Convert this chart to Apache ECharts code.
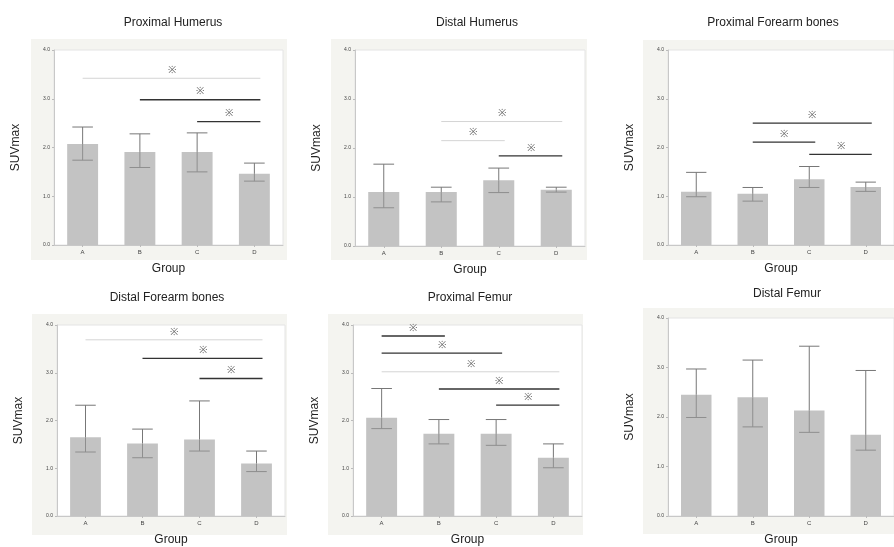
<!DOCTYPE html>
<html><head><meta charset="utf-8">
<script src="https://cdn.jsdelivr.net/npm/echarts@6/dist/echarts.min.js"></script>
<style>html,body{margin:0;padding:0;background:#fff}#c{width:894px;height:547px}</style>
</head><body><div id="c"></div><script>
// ---------------- DATA ----------------
const categories = ['A', 'B', 'C', 'D'];
const panelTitles = ['Proximal Humerus', 'Distal Humerus', 'Proximal Forearm bones',
                     'Distal Forearm bones', 'Proximal Femur', 'Distal Femur'];
const yAxisName = 'SUVmax';
const xAxisName = 'Group';

const meanProxHumerus  = [2.07, 1.91, 1.91, 1.46];
const upperProxHumerus = [2.42, 2.28, 2.30, 1.68];
const lowerProxHumerus = [1.74, 1.59, 1.50, 1.31];
const sigProxHumerus   = [[0, 3, 3.42], [1, 3, 2.98], [2, 3, 2.53]];

const meanDistHumerus  = [1.10, 1.10, 1.34, 1.15];
const upperDistHumerus = [1.67, 1.20, 1.59, 1.20];
const lowerDistHumerus = [0.78, 0.90, 1.09, 1.10];
const sigDistHumerus   = [[1, 3, 2.54], [1, 2, 2.15], [2, 3, 1.84]];

const meanProxForearm  = [1.09, 1.05, 1.35, 1.19];
const upperProxForearm = [1.49, 1.18, 1.61, 1.29];
const lowerProxForearm = [0.99, 0.90, 1.18, 1.10];
const sigProxForearm   = [[1, 3, 2.50], [1, 2, 2.11], [2, 3, 1.86]];

const meanDistForearm  = [1.65, 1.52, 1.60, 1.10];
const upperDistForearm = [2.32, 1.82, 2.41, 1.36];
const lowerDistForearm = [1.34, 1.22, 1.36, 0.93];
const sigDistForearm   = [[0, 3, 3.69], [1, 3, 3.30], [2, 3, 2.88]];

const meanProxFemur  = [2.06, 1.72, 1.72, 1.22];
const upperProxFemur = [2.67, 2.02, 2.02, 1.51];
const lowerProxFemur = [1.83, 1.51, 1.48, 1.01];
const sigProxFemur   = [[0, 1, 3.77], [0, 2, 3.41], [0, 3, 3.02], [1, 3, 2.66], [2, 3, 2.32]];

const meanDistFemur  = [2.45, 2.40, 2.13, 1.64];
const upperDistFemur = [2.97, 3.15, 3.43, 2.94];
const lowerDistFemur = [1.99, 1.80, 1.69, 1.33];
const sigDistFemur   = [];

const sigMark = '※';

// ---------------- LAYOUT / STYLE ----------------
const panels = [
  {mean: meanProxHumerus, up: upperProxHumerus, lo: lowerProxHumerus, sig: sigProxHumerus},
  {mean: meanDistHumerus, up: upperDistHumerus, lo: lowerDistHumerus, sig: sigDistHumerus},
  {mean: meanProxForearm, up: upperProxForearm, lo: lowerProxForearm, sig: sigProxForearm},
  {mean: meanDistForearm, up: upperDistForearm, lo: lowerDistForearm, sig: sigDistForearm},
  {mean: meanProxFemur,   up: upperProxFemur,   lo: lowerProxFemur,   sig: sigProxFemur},
  {mean: meanDistFemur,   up: upperDistFemur,   lo: lowerDistFemur,   sig: sigDistFemur}
];
// faint (thin light) significance lines, by panel -> line indices
const faintLines = [[0], [0, 1], [], [0], [2], []];
const gridBoxes = [
  {left: 54,  top: 50,  width: 229, height: 195},
  {left: 355, top: 50,  width: 230, height: 196},
  {left: 668, top: 50,  width: 231, height: 195},
  {left: 57,  top: 325, width: 228, height: 194},
  {left: 353, top: 325, width: 229, height: 195},
  {left: 668, top: 318, width: 236, height: 200}
];
const bgBoxes = [
  [31, 39, 256, 221], [331, 39, 256, 221], [643, 40, 260, 220],
  [32, 314, 255, 221], [328, 314, 255, 221], [643, 308, 260, 226]
];
const titlePos = [[168, 12], [472, 12], [768, 12], [162, 287], [465, 287], [782, 283]];
const FONT = '"Liberation Sans", Arial, sans-serif';

function renderErr(params, api) {
  const x = api.value(0);
  const lo = api.coord([x, api.value(1)]);
  const hi = api.coord([x, api.value(2)]);
  const top = api.coord([x, api.value(3)]);
  const half = api.size([1, 0])[0] * 0.18;
  const st = {stroke: '#777', lineWidth: 1};
  const stIn = {stroke: '#8e8e8e', lineWidth: 1};
  return {type: 'group', children: [
    {type: 'line', shape: {x1: hi[0], y1: hi[1], x2: top[0], y2: top[1]}, style: st},
    {type: 'line', shape: {x1: top[0], y1: top[1], x2: lo[0], y2: lo[1]}, style: stIn},
    {type: 'line', shape: {x1: hi[0] - half, y1: hi[1], x2: hi[0] + half, y2: hi[1]}, style: st},
    {type: 'line', shape: {x1: lo[0] - half, y1: lo[1], x2: lo[0] + half, y2: lo[1]}, style: stIn}
  ]};
}

function makeSigRenderer(pi) {
  return function (params, api) {
    const a = api.coord([api.value(0), api.value(2)]);
    const b = api.coord([api.value(1), api.value(2)]);
    const faint = faintLines[pi].indexOf(params.dataIndex) >= 0;
    const x1 = a[0], x2 = b[0] + 6;
    return {type: 'group', children: [
      {type: 'line', shape: {x1: x1, y1: a[1], x2: x2, y2: a[1]},
       style: {stroke: faint ? '#d4d4d4' : '#333', lineWidth: faint ? 1 : 1.3}},
      {type: 'text', x: (x1 + x2) / 2, y: a[1] - 3,
       style: {text: sigMark, align: 'center', verticalAlign: 'bottom',
               textAlign: 'center', textVerticalAlign: 'bottom',
               fontSize: 10, fill: '#666', fontFamily: FONT}}
    ]};
  };
}

const option = {
  backgroundColor: '#ffffff',
  animation: false,
  textStyle: {fontFamily: FONT},
  graphic: bgBoxes.map(b => ({type: 'rect', silent: true, z: -10,
    shape: {x: b[0], y: b[1], width: b[2], height: b[3]}, style: {fill: '#f4f4f0'}})),
  title: panelTitles.map((t, i) => ({
    text: t, left: titlePos[i][0], top: titlePos[i][1], textAlign: 'center',
    textStyle: {fontSize: 12, fontWeight: 'normal', color: '#222', fontFamily: FONT}
  })),
  grid: gridBoxes.map(g => Object.assign({show: true, backgroundColor: '#fff',
    borderColor: '#e4e4e4', borderWidth: 1}, g)),
  xAxis: panels.map((p, i) => ({
    gridIndex: i, type: 'category', data: categories,
    axisLine: {lineStyle: {color: '#c8c8c8'}},
    axisTick: {show: true, length: 2, alignWithLabel: true, lineStyle: {color: '#bbb'}},
    axisLabel: {fontSize: 6, color: '#444', margin: 4},
    name: xAxisName, nameLocation: 'middle', nameGap: 18,
    nameTextStyle: {fontSize: 12, color: '#222', fontFamily: FONT}
  })),
  yAxis: panels.map((p, i) => ({
    gridIndex: i, type: 'value', min: 0, max: 4, interval: 1,
    splitLine: {show: false},
    axisLine: {show: true, lineStyle: {color: '#c8c8c8'}},
    axisTick: {show: true, length: 2, lineStyle: {color: '#bbb'}},
    axisLabel: {fontSize: 5, color: '#444', margin: 4, formatter: v => v.toFixed(1)},
    name: yAxisName, nameLocation: 'middle', nameGap: 32, nameRotate: 90,
    nameTextStyle: {fontSize: 12, color: '#222', fontFamily: FONT}
  })),
  series: []
};

panels.forEach((p, i) => {
  option.series.push({
    type: 'bar', xAxisIndex: i, yAxisIndex: i, data: p.mean,
    barWidth: '54%', itemStyle: {color: '#c3c3c3'}, silent: true
  });
  option.series.push({
    type: 'custom', xAxisIndex: i, yAxisIndex: i, renderItem: renderErr,
    encode: {x: 0, y: [1, 2]}, z: 5, silent: true,
    data: p.mean.map((m, k) => [k, p.lo[k], p.up[k], m])
  });
  if (p.sig.length) {
    option.series.push({
      type: 'custom', xAxisIndex: i, yAxisIndex: i, renderItem: makeSigRenderer(i),
      encode: {x: [0, 1], y: 2}, z: 6, silent: true, clip: false,
      data: p.sig
    });
  }
});

const chart = echarts.init(document.getElementById('c'), null, {renderer: 'canvas'});
chart.setOption(option);
</script></body></html>
